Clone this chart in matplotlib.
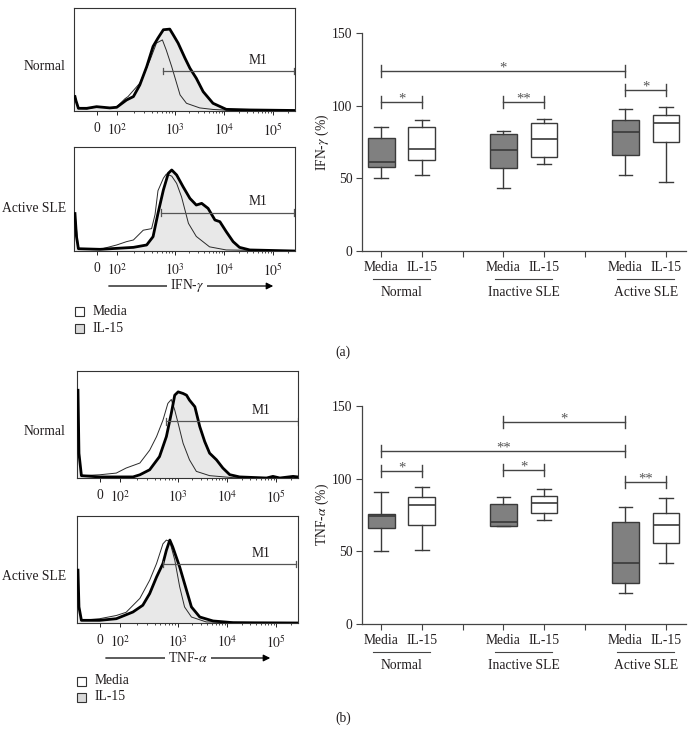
import numpy as np
import matplotlib
matplotlib.use("Agg")
import matplotlib.pyplot as plt
from matplotlib.patches import Rectangle, FancyArrowPatch

plt.rcParams["font.family"] = ["Liberation Serif", "DejaVu Serif"]
plt.rcParams["mathtext.fontset"] = "stix"
plt.rcParams["font.size"] = 10
TXT = "#231f20"
FS = 9.8

## DATA
# flow histograms: x in display decades (10^3 -> 3), y in % of panel height
ifn_norm_il_x = [0.97, 0.99, 1.04, 1.21, 1.41, 1.68, 1.82, 2.02, 2.16, 2.29, 2.43, 2.56, 2.66, 2.77, 2.90,
                 2.97, 3.07, 3.21, 3.31, 3.44, 3.58, 3.78, 4.05, 4.53, 5.45]
ifn_norm_il_y = [14, 10, 2.6, 2.6, 4.2, 3.0, 3.6, 10.7, 14, 25.3, 43, 62.7, 70.8, 78.9, 79.5,
                 74, 65.9, 51.3, 41.6, 31.8, 18.8, 7.5, 1.6, 1.0, 0.5]
ifn_norm_med_x = [0.97, 1.04, 1.21, 1.41, 1.68, 1.82, 1.99, 2.05, 2.29, 2.50, 2.63, 2.75, 2.83, 2.94,
                  3.11, 3.24, 3.51, 3.78, 4.19, 5.45]
ifn_norm_med_y = [14, 2.5, 2, 4, 3, 4, 12, 14, 27, 49.7, 66, 69, 59, 43, 15.6, 7.5, 3, 1.5, 0.5, 0]

ifn_act_il_x = [0.97, 1.00, 1.04, 1.48, 2.16, 2.43, 2.56, 2.66, 2.77, 2.87, 2.94, 3.04, 3.17, 3.31,
                3.44, 3.55, 3.68, 3.82, 3.92, 4.05, 4.19, 4.32, 4.53, 5.45]
ifn_act_il_y = [36, 14, 2.2, 1.6, 3.5, 5.8, 13.8, 36.2, 58.7, 74.7, 77.9, 73.1, 61.9, 50.6,
                44.2, 45.8, 41, 29.8, 28.2, 18.6, 9, 3.5, 1, 0]
ifn_act_med_x = [0.97, 1.04, 1.48, 1.82, 2.02, 2.16, 2.36, 2.53, 2.60, 2.66, 2.77, 2.83, 2.94, 3.04,
                 3.14, 3.28, 3.44, 3.71, 4.05, 5.45]
ifn_act_med_y = [36, 2, 1.6, 5.8, 9, 10.6, 20, 21.5, 35, 58, 70, 74, 72, 65,
                 52, 26.6, 14, 4, 1, 0]

tnf_norm_il_x = [0.97, 0.99, 1.04, 1.41, 2.09, 2.23, 2.43, 2.63, 2.77, 2.87, 2.94, 3.01, 3.11, 3.18,
                 3.24, 3.35, 3.45, 3.55, 3.65, 3.79, 3.92, 4.06, 4.26, 4.81, 4.94, 5.08, 5.35, 5.45]
tnf_norm_il_y = [82, 23, 2.2, 1, 1, 3, 7.7, 20, 38.7, 60.4, 77.4, 80.5, 79, 77.4,
                 72.8, 66.6, 48, 34.1, 23.2, 17, 9.3, 3.1, 1, 0, 1.5, 0, 1.5, 1]
tnf_norm_med_x = [0.97, 0.99, 1.04, 1.41, 1.75, 1.95, 2.23, 2.43, 2.57, 2.70, 2.80, 2.87, 2.94, 3.01,
                  3.11, 3.24, 3.38, 3.65, 4.13, 5.45]
tnf_norm_med_y = [82, 23, 2.2, 3, 4.6, 9.3, 14, 26, 38.7, 54, 69.7, 73.4, 63.5, 51,
                  32.5, 17, 6.2, 2.2, 0.3, 0]

tnf_act_il_x = [0.97, 0.99, 1.04, 1.41, 1.75, 2.09, 2.29, 2.43, 2.57, 2.70, 2.77, 2.84, 2.90, 3.04,
                3.18, 3.28, 3.45, 3.72, 4.13, 5.45]
tnf_act_il_y = [49.4, 15, 2.5, 2.5, 4, 10.3, 16.6, 27.5, 43, 55.6, 68, 77.5, 71, 52.5,
                30.6, 15, 5.6, 1.9, 0.3, 0]
tnf_act_med_x = [0.97, 0.99, 1.04, 1.41, 1.75, 1.95, 2.23, 2.43, 2.57, 2.70, 2.77, 2.84, 2.94, 3.04,
                 3.14, 3.28, 3.58, 5.45]
tnf_act_med_y = [49.4, 15, 2.5, 4, 7, 10, 23, 40, 55.6, 74, 77.5, 76, 59, 34,
                 15, 5.6, 1, 0]

# M1 gates: start, end, height
ifn_norm_gate = (2.77, 5.42, 39)
ifn_act_gate = (2.73, 5.42, 37)
tnf_norm_gate = (2.77, 5.44, 53)
tnf_act_gate = (2.71, 5.40, 55)

hist_tick_pos = [1.42, 1.82, 3, 4, 5]
hist_tick_lab = ["0", "$10^2$", "$10^3$", "$10^4$", "$10^5$"]

# box plots
groups = ["Normal", "Inactive SLE", "Active SLE"]
conds = ["Media", "IL-15", "Media", "IL-15", "Media", "IL-15"]

ifn_whislo = [50.1, 52.3, 43.6, 59.7, 52.6, 47.8]
ifn_q1 = [58.1, 62.3, 57.0, 64.5, 66.2, 74.7]
ifn_med = [61.1, 70.1, 69.6, 77.0, 82.2, 88.0]
ifn_q3 = [77.8, 85.1, 80.2, 88.4, 89.8, 93.3]
ifn_whishi = [85.5, 89.8, 82.5, 91.0, 97.6, 99.0]

tnf_whislo = [50.5, 50.9, 67.4, 71.8, 21.1, 41.7]
tnf_q1 = [66.3, 68.1, 67.4, 76.1, 28.0, 55.5]
tnf_med = [74.3, 81.9, 70.0, 83.0, 41.7, 68.3]
tnf_q3 = [75.7, 87.2, 82.3, 88.3, 70.2, 76.1]
tnf_whishi = [90.8, 94.5, 87.6, 92.7, 80.3, 86.7]

# significance brackets: (box i, box j, height, stars)
ifn_sig = [(0, 1, 102.4, "*"), (2, 3, 102.4, "**"), (0, 4, 124.0, "*"), (4, 5, 110.7, "*")]
tnf_sig = [(0, 1, 105.3, "*"), (2, 3, 106.0, "*"), (0, 4, 119.0, "**"), (2, 4, 138.8, "*"),
           (4, 5, 97.5, "**")]

positions = [1, 2, 4, 5, 7, 8]


W, H = 694, 750
fig = plt.figure(figsize=(W / 100, H / 100), dpi=100)


def fx(x):
    return x / W


def fy(y):
    return 1 - y / H


def px_axes(x0, y0, x1, y1):
    return fig.add_axes([x0 / W, 1 - y1 / H, (x1 - x0) / W, (y1 - y0) / H])


minor_pos = np.concatenate([1.82 + 1.18 * np.log10(np.arange(2, 10)),
                            3 + np.log10(np.arange(2, 10)),
                            4 + np.log10(np.arange(2, 10)),
                            5 + np.log10(np.arange(2, 3))])


def draw_hist(ax, il_x, il_y, med_x, med_y, gate):
    ax.fill_between(il_x, il_y, color="#e8e8e8", lw=0, zorder=1)
    ax.plot(med_x, med_y, color="#2a2a2a", lw=0.7, zorder=2)
    ax.plot(il_x, il_y, color="black", lw=2.0, zorder=3)
    g0, g1, gh = gate
    ax.plot([g0, g1], [gh, gh], color="#555555", lw=0.9, zorder=4)
    ax.plot([g0, g0], [gh - 3, gh + 3], color="#555555", lw=0.9, zorder=4)
    ax.plot([g1, g1], [gh - 3, gh + 3], color="#555555", lw=0.9, zorder=4)
    ax.text(4.70, gh + 4, "M1", ha="center", va="bottom", color=TXT, fontsize=FS)
    ax.set_xlim(0.95, 5.45)
    ax.set_ylim(0, 100)
    ax.set_yticks([])
    ax.set_xticks(hist_tick_pos)
    ax.set_xticklabels(hist_tick_lab, color=TXT, fontsize=FS)
    ax.set_xticks(minor_pos, minor=True)
    ax.tick_params(axis="x", which="major", length=3, width=0.6, pad=5)
    ax.tick_params(axis="x", which="minor", length=1.5, width=0.5)
    for s in ax.spines.values():
        s.set_linewidth(0.8)
        s.set_color("#333333")


def draw_box(ax, whislo, q1, med, q3, whishi, sig, ylabel, ymid):
    stats = []
    for i in range(len(med)):
        stats.append(dict(whislo=whislo[i], q1=q1[i], med=med[i], q3=q3[i], whishi=whishi[i]))
    bp = ax.bxp(stats, positions=positions, widths=0.66, capwidths=0.33, patch_artist=True,
                showfliers=False, manage_ticks=False,
                boxprops=dict(edgecolor="#3a3a3a", linewidth=1.0),
                medianprops=dict(color="#3a3a3a", linewidth=1.2),
                whiskerprops=dict(color="#3a3a3a", linewidth=1.0),
                capprops=dict(color="#3a3a3a", linewidth=1.0))
    for k, b in enumerate(bp["boxes"]):
        b.set_facecolor("#808080" if k % 2 == 0 else "white")

    for i, j, y, lab in sig:
        x0, x1 = positions[i], positions[j]
        ax.plot([x0, x1], [y, y], color="#444444", lw=1.0, clip_on=False)
        ax.plot([x0, x0], [y - 4, y + 4], color="#444444", lw=1.0, clip_on=False)
        ax.plot([x1, x1], [y - 4, y + 4], color="#444444", lw=1.0, clip_on=False)
        ax.text((x0 + x1) / 2, y - 0.5, lab, ha="center", va="baseline", color="#555555",
                fontsize=10.5)

    ax.set_xlim(0.53, 8.49)
    ax.set_ylim(0, 150)
    ax.set_yticks([0, 50, 100, 150])
    ax.set_xticks(positions)
    ax.set_xticklabels(conds, color=TXT, fontsize=FS)
    ax.set_xticks([3, 6], minor=True)
    ax.tick_params(axis="both", which="both", length=4, width=0.8, color="#444444",
                   labelcolor=TXT, labelsize=FS, pad=3)
    for s in ["top", "right"]:
        ax.spines[s].set_visible(False)
    for s in ["left", "bottom"]:
        ax.spines[s].set_linewidth(0.9)
        ax.spines[s].set_color("#444444")

    tr = ax.get_xaxis_transform()
    for g, name in enumerate(groups):
        c = positions[2 * g] + 0.5
        ax.plot([c - 0.7, c + 0.7], [-0.13, -0.13], transform=tr, color="#444444", lw=0.8,
                clip_on=False)
        ax.text(c, -0.19, name, transform=tr, ha="center", va="center", color=TXT, fontsize=FS)

    fig.text(fx(322), fy(ymid), ylabel, rotation=90, ha="center", va="center", color=TXT,
             fontsize=FS)


def draw_axis_arrow(x0, x1, y, xc, label):
    arr = FancyArrowPatch((fx(x0), fy(y)), (fx(x1), fy(y)), transform=fig.transFigure,
                          arrowstyle="-|>", mutation_scale=10, lw=0.9, color="black", zorder=1)
    fig.add_artist(arr)
    fig.text(fx(xc), fy(y), label, ha="center", va="center", color=TXT, fontsize=FS, zorder=3,
             bbox=dict(fc="white", ec="none", pad=2))


def draw_legend(x, y1, y2):
    for yy, col, lab in [(y1, "white", "Media"), (y2, "#d9d9d9", "IL-15")]:
        fig.add_artist(Rectangle((fx(x - 4.5), fy(yy + 4.5)), 9 / W, 9 / H,
                                 transform=fig.transFigure, fc=col, ec="#333333", lw=0.8))
        fig.text(fx(x + 14), fy(yy), lab, ha="left", va="center", color=TXT, fontsize=FS)


# ---------------- (a) IFN-gamma
ax1 = px_axes(74, 8, 295, 111)
draw_hist(ax1, ifn_norm_il_x, ifn_norm_il_y, ifn_norm_med_x, ifn_norm_med_y, ifn_norm_gate)
ax2 = px_axes(74, 147, 295, 251)
draw_hist(ax2, ifn_act_il_x, ifn_act_il_y, ifn_act_med_x, ifn_act_med_y, ifn_act_gate)
fig.text(fx(66), fy(66), "Normal", ha="right", va="center", color=TXT, fontsize=FS)
fig.text(fx(66), fy(208), "Active SLE", ha="right", va="center", color=TXT, fontsize=FS)
draw_axis_arrow(106, 276, 286, 187, "IFN-$\\gamma$")
draw_legend(79, 312, 328)

ax3 = px_axes(362, 33, 686, 251)
draw_box(ax3, ifn_whislo, ifn_q1, ifn_med, ifn_q3, ifn_whishi, ifn_sig, "IFN-$\\gamma$ (%)", 142)

fig.text(fx(343), fy(352), "(a)", ha="center", va="center", color=TXT, fontsize=FS)

# ---------------- (b) TNF-alpha
ax4 = px_axes(77, 371, 298, 478)
draw_hist(ax4, tnf_norm_il_x, tnf_norm_il_y, tnf_norm_med_x, tnf_norm_med_y, tnf_norm_gate)
ax5 = px_axes(77, 516, 298, 623)
draw_hist(ax5, tnf_act_il_x, tnf_act_il_y, tnf_act_med_x, tnf_act_med_y, tnf_act_gate)
fig.text(fx(66), fy(432), "Normal", ha="right", va="center", color=TXT, fontsize=FS)
fig.text(fx(66), fy(577), "Active SLE", ha="right", va="center", color=TXT, fontsize=FS)
draw_axis_arrow(103, 273, 658, 188, "TNF-$\\alpha$")
draw_legend(81, 681, 697)

ax6 = px_axes(362, 406, 686, 624)
draw_box(ax6, tnf_whislo, tnf_q1, tnf_med, tnf_q3, tnf_whishi, tnf_sig, "TNF-$\\alpha$ (%)", 515)

fig.text(fx(343), fy(718), "(b)", ha="center", va="center", color=TXT, fontsize=FS)

fig.savefig("out.png", dpi=100)
